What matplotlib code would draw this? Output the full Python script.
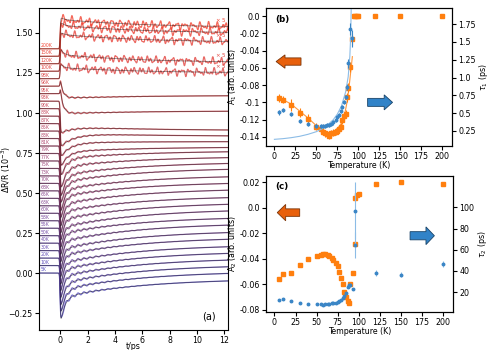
import numpy as np
import matplotlib.pyplot as plt
from matplotlib.patches import FancyArrow
from matplotlib.ticker import FuncFormatter

# temperatures of the transients (K), bottom to top
temps = [5, 10, 20, 30, 40, 50, 55, 58, 60, 63, 65, 68, 70, 73, 75, 77, 79,
         81, 83, 85, 87, 88, 90, 93, 95, 96, 98, 100, 120, 150, 200]
times5 = [98, 100, 120, 150, 200]          # traces shown x5
step = 0.0467                              # vertical offset between traces

# signal relative to baseline at t=0+, t=2 ps, t=12 ps
tr_start = [-0.33, -0.33, -0.34, -0.35, -0.36, -0.37, -0.37, -0.37, -0.37, -0.37,
            -0.37, -0.37, -0.37, -0.37, -0.36, -0.36, -0.35, -0.35, -0.34, -0.30,
            -0.28, -0.26, -0.24, -0.20, 0.04, 0.05, 0.10, 0.15, 0.20, 0.22, 0.20]
tr_mid = [-0.12, -0.12, -0.125, -0.13, -0.135, -0.14, -0.14, -0.145, -0.145, -0.145,
          -0.15, -0.15, -0.15, -0.15, -0.15, -0.155, -0.155, -0.16, -0.16, -0.16,
          -0.17, -0.17, -0.17, -0.17, -0.12, -0.07, 0.06, 0.09, 0.17, 0.18, 0.17]
tr_end = [-0.05, -0.05, -0.055, -0.06, -0.065, -0.07, -0.07, -0.075, -0.075, -0.08,
          -0.08, -0.085, -0.09, -0.09, -0.095, -0.10, -0.10, -0.11, -0.12, -0.13,
          -0.15, -0.16, -0.17, -0.18, -0.11, -0.06, 0.04, 0.06, 0.14, 0.15, 0.14]
tr_osc = [0.014] * 20 + [0.008] * 6 + [0.02] * 5

# panel (b): A1 and tau1
A1 = [-0.095, -0.097, -0.103, -0.112, -0.119, -0.128, -0.131, -0.134, -0.136, -0.137,
      -0.139, -0.136, -0.135, -0.134, -0.133, -0.131, -0.128, -0.121, -0.116, -0.113,
      -0.094, -0.083, -0.059, -0.027, 0, 0, 0, 0, 0, 0, 0]
A1_err = [0.005, 0.004, 0.007, 0.005, 0.005, 0.004, 0.004, 0.004, 0.004, 0.004,
          0.004, 0.004, 0.004, 0.004, 0.004, 0.004, 0.004, 0.004, 0.004, 0.004,
          0.005, 0.005, 0.006, 0.006, 0, 0, 0, 0, 0, 0, 0]
tau1 = [0.51, 0.545, 0.484, 0.395, 0.344, 0.325, 0.325, 0.325, 0.325, 0.33, 0.335,
        0.35, 0.37, 0.405, 0.44, 0.475, 0.53, 0.59, 0.66, 0.73, 0.87, 1.2, 1.68,
        1.55, np.nan, np.nan, np.nan, np.nan, np.nan, np.nan, np.nan]
tau1_err = [0.03] * 20 + [0.04, 0.06, 0.08, 0.12] + [0] * 7
fit1_T = [0, 10, 20, 30, 40, 50, 60, 70, 75, 80, 85, 88, 90, 91, 91.6]
fit1_tau = [0.133, 0.142, 0.156, 0.175, 0.203, 0.24, 0.30, 0.405, 0.485, 0.6,
            0.80, 1.01, 1.30, 1.58, 1.97]
fitA1_T = [5, 20, 30, 40, 50, 55, 60, 63, 66, 70, 75, 80, 84, 87, 89, 91, 93]
fitA1 = [-0.094, -0.102, -0.110, -0.118, -0.127, -0.131, -0.137, -0.138, -0.137,
         -0.135, -0.131, -0.124, -0.113, -0.098, -0.083, -0.065, -0.047]

# panel (c): A2 and tau2
A2 = [-0.056, -0.052, -0.051, -0.045, -0.040, -0.0375, -0.037, -0.0365, -0.0365,
      -0.037, -0.0375, -0.039, -0.041, -0.0435, -0.046, -0.050, -0.055, -0.060,
      -0.066, -0.070, -0.073, -0.075, -0.060, -0.051, -0.028, 0.0075, 0.0103,
      0.011, 0.0187, 0.020, 0.0187]
tau2 = [12.8, 13.1, 11.2, 10.0, 9.0, 8.7, 8.4, 8.1, 8.4, 8.7, 9.0, 9.3, 9.6, 10.0,
        10.6, 11.2, 12.2, 14.4, 16.2, 19.4, 24.7, 26.3, 26.3, 23.1, 64.5, 97.0,
        np.nan, np.nan, 38.2, 36.6, 46.7]
tau2_err = [0.5] * 24 + [12, 27, 0, 0, 3, 2, 3]

temps = np.array(temps, float)
t = np.arange(-1.5, 12.3, 0.02)
onset = 0.5 * (1 + np.tanh(t / 0.04))
tp = np.clip(t, 0, None)

FS = 5.7


def color_of(i):
    f = i / (len(temps) - 1)
    c0 = np.array([0.36, 0.32, 0.76])
    c1 = np.array([0.95, 0.27, 0.20])
    return tuple(c0 + (c1 - c0) * f)


def short(v, pos):
    v = float(round(v, 3))
    return '0.0' if v == 0 else repr(v)


fig = plt.figure(figsize=(4.91, 3.5), dpi=100)
axa = fig.add_axes([0.0794, 0.0571, 0.3855, 0.92])
axb = fig.add_axes([0.5418, 0.583, 0.379, 0.394])
axc = fig.add_axes([0.5418, 0.1086, 0.381, 0.389])

# ---- (a) transients
for i, T in enumerate(temps):
    off = i * step
    tauf = 0.2 if T >= 95 else (np.nan_to_num(tau1[i], nan=0.5) * 0.6)
    taus = 6.0
    M = np.array([[1, 1, 1],
                  [np.exp(-2 / tauf), np.exp(-2 / taus), 1],
                  [np.exp(-12 / tauf), np.exp(-12 / taus), 1]])
    a, b, c = np.linalg.solve(M, [tr_start[i], tr_mid[i], tr_end[i]])
    fit = onset * (a * np.exp(-tp / tauf) + b * np.exp(-tp / taus) + c)
    osc = tr_osc[i] * np.exp(-tp / 2.5) * np.cos(2 * np.pi * 2.3 * tp)
    if T in times5:
        osc = tr_osc[i] * (0.6 * np.sin(2 * np.pi * 1.7 * tp + i)
                           + 0.5 * np.sin(2 * np.pi * 3.1 * tp + 2 * i)
                           + 0.4 * np.sin(2 * np.pi * 4.6 * tp + 3 * i))
    col = color_of(i)
    axa.plot(t, off + fit + onset * osc, color=col, lw=0.9, alpha=0.8)
    axa.plot(t, off + fit, color='k', lw=0.6, alpha=0.45)
    axa.text(-1.42, off + 0.006, '%dK' % T, color=col, fontsize=3.3, va='bottom')
    if T in times5:
        axa.text(11.3, off + tr_end[i] + 0.014, r'$\times$ 5', color=col,
                 fontsize=4, va='bottom')

axa.set_xlim(-1.55, 12.3)
axa.set_ylim(-0.356, 1.656)
axa.set_xticks([0, 2, 4, 6, 8, 10, 12])
axa.set_yticks([-0.25, 0, 0.25, 0.5, 0.75, 1.0, 1.25, 1.5])
axa.set_xlabel('t/ps', fontsize=FS)
axa.set_ylabel(r'$\Delta$R/R (10$^{-3}$)', fontsize=FS)
axa.xaxis.set_label_coords(0.5, -0.036)
axa.yaxis.set_label_coords(-0.138, 0.5)
axa.tick_params(labelsize=FS, length=3, pad=1.5)
axa.text(10.4, -0.29, '(a)', fontsize=7)

fmt = FuncFormatter(short)
orange = '#ff7f0e'
blue = '#3b86c6'

# ---- (b)
axb.errorbar(temps, A1, yerr=A1_err, fmt='s', ms=2.5, color=orange,
             ecolor=orange, elinewidth=0.8, capsize=0, zorder=3)
axb.plot(fitA1_T, fitA1, color=orange, lw=0.8, alpha=0.8)
axb.set_ylim(-0.1505, 0.0093)
axb.set_yticks([0, -0.02, -0.04, -0.06, -0.08, -0.1, -0.12, -0.14])
axb.yaxis.set_major_formatter(fmt)
axb.set_xticks(range(0, 201, 25))
axb.set_xlim(-10, 212)
axb.set_xlabel('Temperature (K)', fontsize=FS, labelpad=0)
axb.set_ylabel(r'A$_1$ (arb. units)', fontsize=FS, labelpad=0.5)
axb.tick_params(labelsize=FS, length=3, pad=1.5)
axb.text(0.05, 0.9, '(b)', transform=axb.transAxes, fontsize=6.3, fontweight='bold')
bt = axb.twinx()
bt.errorbar(temps, tau1, yerr=tau1_err, fmt='o', ms=1.8, color=blue,
            ecolor=blue, elinewidth=0.8, capsize=0, zorder=3)
bt.plot(fit1_T, fit1_tau, color='#8cbce6', lw=0.8)
bt.set_ylim(0.04, 1.975)
bt.set_yticks([0.25, 0.5, 0.75, 1.0, 1.25, 1.5, 1.75])
bt.yaxis.set_major_formatter(fmt)
bt.set_ylabel(r'$\tau_1$ (ps)', fontsize=FS, labelpad=1)
bt.tick_params(labelsize=FS, length=3, pad=1.5)
bt.add_patch(FancyArrow(0.188, 0.612, -0.134, 0, width=0.053, head_width=0.097,
                        head_length=0.048, length_includes_head=True,
                        transform=bt.transAxes, fc='#e8600c', ec='#7a3408', lw=0.6))
bt.add_patch(FancyArrow(0.546, 0.316, 0.134, 0, width=0.058, head_width=0.109,
                        head_length=0.045, length_includes_head=True,
                        transform=bt.transAxes, fc='#3183c8', ec='#1a4468', lw=0.6))

# ---- (c)
axc.errorbar(temps, A2, fmt='s', ms=2.5, color=orange, zorder=3)
axc.set_ylim(-0.0818, 0.0252)
axc.set_yticks([0.02, 0, -0.02, -0.04, -0.06, -0.08])
axc.yaxis.set_major_formatter(fmt)
axc.set_xticks(range(0, 201, 25))
axc.set_xlim(-10, 212)
axc.set_xlabel('Temperature (K)', fontsize=FS, labelpad=0)
axc.set_ylabel(r'A$_2$ (arb. units)', fontsize=FS, labelpad=0.5)
axc.tick_params(labelsize=FS, length=3, pad=1.5)
axc.text(0.05, 0.9, '(c)', transform=axc.transAxes, fontsize=6.3, fontweight='bold')
ct = axc.twinx()
ct.errorbar(temps, tau2, yerr=tau2_err, fmt='o', ms=1.8, color=blue,
            ecolor='#8cbce6', elinewidth=0.8, capsize=0, zorder=3)
ct.set_ylim(1.2, 129.8)
ct.set_yticks([20, 40, 60, 80, 100])
ct.set_ylabel(r'$\tau_2$ (ps)', fontsize=FS, labelpad=1)
ct.tick_params(labelsize=FS, length=3, pad=1.5)
ct.add_patch(FancyArrow(0.18, 0.73, -0.12, 0, width=0.055, head_width=0.12,
                        head_length=0.045, length_includes_head=True,
                        transform=ct.transAxes, fc='#e8600c', ec='#7a3408', lw=0.6))
ct.add_patch(FancyArrow(0.77, 0.56, 0.13, 0, width=0.06, head_width=0.13,
                        head_length=0.045, length_includes_head=True,
                        transform=ct.transAxes, fc='#3183c8', ec='#1a4468', lw=0.6))

fig.savefig('out.png', dpi=100)
